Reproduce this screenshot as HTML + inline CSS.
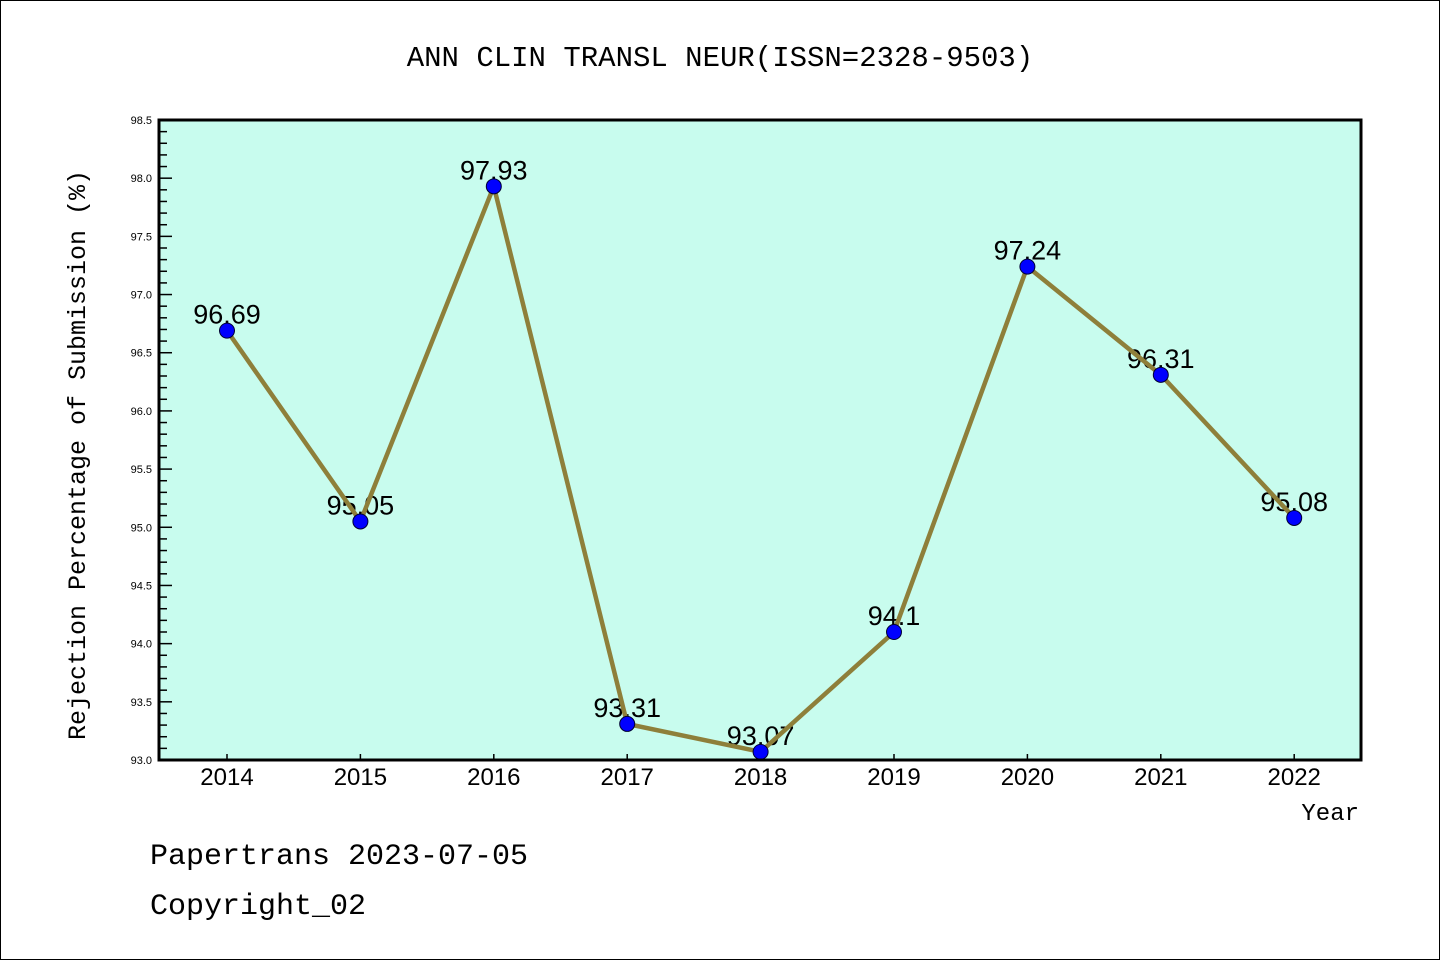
<!DOCTYPE html>
<html><head><meta charset="utf-8"><style>
body{margin:0;background:#fff}
svg{display:block;font-family:"Liberation Sans","DejaVu Sans",sans-serif}
</style></head><body>
<svg id="chart" width="1440" height="960">
<rect x="0.5" y="0.5" width="1439" height="959" fill="#fff" stroke="#000"/>
<text x="720" y="66" text-anchor="middle" font-size="29" font-family="Liberation Mono, monospace">ANN CLIN TRANSL NEUR(ISSN=2328-9503)</text>
<rect x="159" y="120" width="1202" height="640" fill="#c8fcee"/>
<g id="yticks"></g><g id="xticks"></g>
<g id="labels"></g><g id="series"></g>
<rect x="159" y="120" width="1202" height="640" fill="none" stroke="#000" stroke-width="3"/>
<text transform="translate(85,455) rotate(-90)" text-anchor="middle" font-size="25" font-family="Liberation Mono, monospace">Rejection Percentage of Submission (%)</text>
<text x="1359" y="820" text-anchor="end" font-size="24" font-family="Liberation Mono, monospace">Year</text>
<text x="150" y="864" font-size="30" font-family="Liberation Mono, monospace">Papertrans 2023-07-05</text>
<text x="150" y="914" font-size="30" font-family="Liberation Mono, monospace">Copyright_02</text>
</svg>
<script>
const years=["2014","2015","2016","2017","2018","2019","2020","2021","2022"];
const values=[96.69,95.05,97.93,93.31,93.07,94.1,97.24,96.31,95.08];
const valueLabels=["96.69","95.05","97.93","93.31","93.07","94.1","97.24","96.31","95.08"];
const yTickLabels=["93.0","93.5","94.0","94.5","95.0","95.5","96.0","96.5","97.0","97.5","98.0","98.5"];
const NS="http://www.w3.org/2000/svg";
const yMin=93,yMax=98.5,plotTop=120,plotBot=760,plotLeft=159;
const yS=v=>plotBot-(v-yMin)/(yMax-yMin)*(plotBot-plotTop);
const xS=i=>227+i*133.4;
function mk(t,a,p){const e=document.createElementNS(NS,t);for(const k in a)e.setAttribute(k,a[k]);p.appendChild(e);return e;}
const yt=document.getElementById('yticks');
for(let k=0;k<=55;k++){const v=yMin+k*0.1;const major=k%5===0;
 const l=mk('line',{x1:plotLeft,x2:plotLeft+(major?13:8),y1:yS(v),y2:yS(v),stroke:'#000','stroke-width':1.5},yt);
 
 }
yTickLabels.forEach(s=>{const t=mk('text',{x:152,y:yS(parseFloat(s))+4,'text-anchor':'end','font-size':11},yt);t.textContent=s;
 
 });
const xt=document.getElementById('xticks');
years.forEach((s,i)=>{const l=mk('line',{x1:xS(i),x2:xS(i),y1:plotBot,y2:plotBot-6,stroke:'#000','stroke-width':1.5},xt);
 
 
 const t=mk('text',{x:xS(i),y:785,'text-anchor':'middle','font-size':24},xt);t.textContent=s;
 
 });
const lb=document.getElementById('labels');
values.forEach((v,i)=>{const t=mk('text',{x:xS(i),y:yS(v)-7,'text-anchor':'middle','font-size':27},lb);t.textContent=valueLabels[i];
 
 });
const sr=document.getElementById('series');
const pl=mk('polyline',{points:values.map((v,i)=>xS(i)+','+yS(v)).join(' '),fill:'none',stroke:'#8e7f3a','stroke-width':4.5},sr);


values.forEach((v,i)=>{const c=mk('circle',{cx:xS(i),cy:yS(v),r:7.5,fill:'#0000ff',stroke:'#000033','stroke-width':1},sr);
 
 });
</script>
</body></html>
